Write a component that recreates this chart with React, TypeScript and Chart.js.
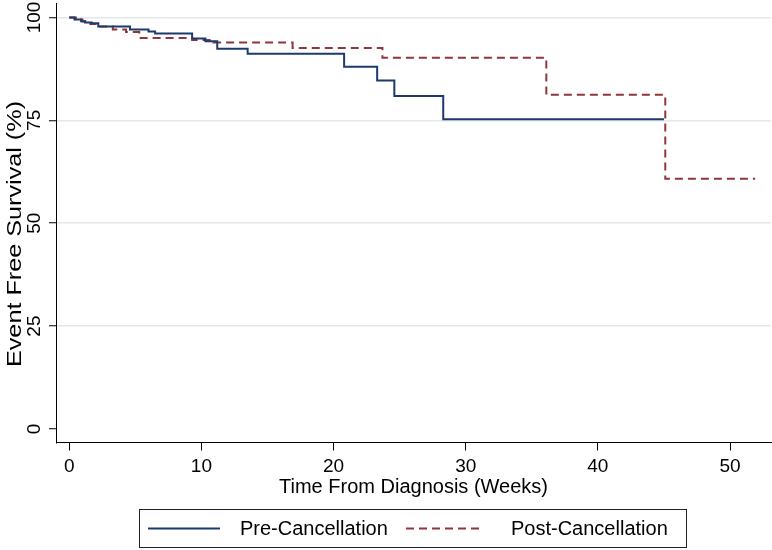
import React, { useEffect, useRef } from "react";
import { Chart, registerables } from "chart.js";

Chart.register(...registerables);

// Kaplan-Meier step data (time in weeks, event free survival in %)
const preTime = [0, 0.4, 0.9, 1.2, 1.7, 2.2, 4.6, 6.0, 6.5, 9.3, 10.3, 11.2, 13.5, 20.8, 23.3, 24.6, 28.3, 45.0];
const preSurv = [100, 99.5, 99.1, 98.8, 98.6, 97.8, 97.1, 96.6, 96.1, 94.9, 94.2, 92.4, 91.2, 88.0, 84.7, 80.9, 75.3, 75.3];

const postTime = [0, 0.5, 1.0, 1.6, 2.2, 3.3, 4.3, 5.3, 9.3, 10.9, 16.9, 23.7, 36.1, 45.1, 51.9];
const postSurv = [100, 99.5, 99.0, 98.4, 97.8, 97.1, 96.5, 95.0, 94.5, 93.9, 92.6, 90.2, 81.2, 60.8, 60.8];

const seriesNames = ["Pre-Cancellation", "Post-Cancellation"];
const xTicks = [0, 10, 20, 30, 40, 50];
const yTicks = [0, 25, 50, 75, 100];
const xTitle = "Time From Diagnosis (Weeks)";
const yTitle = "Event Free Survival (%)";

const FONT = "'Liberation Sans', Arial, Helvetica, sans-serif";
const PRE_COLOR = "#1d3a6e";
const POST_COLOR = "#90353b";
const GRID_COLOR = "#e1e8ee";

export default function App() {
  const ref = useRef<HTMLCanvasElement>(null);

  useEffect(() => {
    document.body.style.margin = "0";
    const canvas = ref.current;
    if (!canvas) return;

    const overlay = {
      id: "overlay",
      afterDraw(chart: any) {
        const ctx = chart.ctx as CanvasRenderingContext2D;
        const ys = chart.scales.y;
        ctx.save();
        ctx.fillStyle = "#000";
        ctx.textAlign = "center";
        ctx.textBaseline = "middle";
        // y tick labels (rotated)
        ctx.font = `19px ${FONT}`;
        for (const v of yTicks) {
          const py = ys.getPixelForValue(v);
          ctx.save();
          ctx.translate(35, py);
          ctx.rotate(-Math.PI / 2);
          ctx.fillText(String(v), 0, 0);
          ctx.restore();
        }
        // y title
        ctx.font = `20px ${FONT}`;
        ctx.save();
        ctx.translate(15, 234);
        ctx.rotate(-Math.PI / 2);
        ctx.scale(1.26, 1);
        ctx.fillText(yTitle, 0, 0);
        ctx.restore();

        // legend
        ctx.strokeStyle = "#222";
        ctx.lineWidth = 1;
        ctx.strokeRect(139.5, 509.5, 547, 38);
        const ly = 528.5;
        ctx.lineWidth = 2;
        ctx.strokeStyle = PRE_COLOR;
        ctx.beginPath();
        ctx.moveTo(148, ly);
        ctx.lineTo(220, ly);
        ctx.stroke();
        ctx.strokeStyle = POST_COLOR;
        ctx.setLineDash([8, 5]);
        ctx.beginPath();
        ctx.moveTo(406, ly);
        ctx.lineTo(484, ly);
        ctx.stroke();
        ctx.setLineDash([]);
        ctx.font = `20px ${FONT}`;
        ctx.textAlign = "left";
        ctx.fillStyle = "#000";
        ctx.fillText(seriesNames[0], 240, ly + 1);
        ctx.fillText(seriesNames[1], 511, ly + 1);
        ctx.restore();
      },
    };

    const chart = new Chart(canvas, {
      type: "line",
      data: {
        datasets: [
          {
            label: seriesNames[0],
            data: preTime.map((t, i) => ({ x: t, y: preSurv[i] })),
            borderColor: PRE_COLOR,
            borderWidth: 2,
            pointRadius: 0,
            stepped: "before",
            fill: false,
          },
          {
            label: seriesNames[1],
            data: postTime.map((t, i) => ({ x: t, y: postSurv[i] })),
            borderColor: POST_COLOR,
            borderWidth: 2,
            borderDash: [8, 5],
            pointRadius: 0,
            stepped: "before",
            fill: false,
          },
        ],
      },
      options: {
        responsive: false,
        animation: false,
        devicePixelRatio: 1,
        layout: { padding: { top: 3, right: 1, left: 0, bottom: 0 } },
        plugins: {
          legend: { display: false },
          tooltip: { enabled: false },
        },
        scales: {
          x: {
            type: "linear",
            min: -1,
            max: 53.1,
            afterBuildTicks: (s: any) => {
              s.ticks = xTicks.map((v) => ({ value: v }));
            },
            afterFit: (s: any) => {
              s.height = 107.5;
            },
            ticks: {
              autoSkip: false,
              color: "#000",
              font: { family: FONT, size: 19 },
              padding: 5,
              maxRotation: 0,
              minRotation: 0,
            },
            grid: {
              drawOnChartArea: false,
              drawTicks: true,
              tickLength: 8,
              tickColor: "#000",
              tickWidth: 1,
            },
            border: { display: true, color: "#000", width: 1 },
            title: {
              display: true,
              text: xTitle,
              color: "#000",
              font: { family: FONT, size: 20 },
              padding: { top: 0, bottom: 51 },
            },
          },
          y: {
            type: "linear",
            min: -3.28,
            max: 103.52,
            afterBuildTicks: (s: any) => {
              s.ticks = yTicks.map((v) => ({ value: v }));
            },
            afterFit: (s: any) => {
              s.width = 56;
            },
            ticks: { display: false },
            grid: {
              color: (c: any) => (c.tick && c.tick.value === 0 ? "rgba(0,0,0,0)" : GRID_COLOR),
              lineWidth: 1.5,
              drawTicks: true,
              tickLength: 7,
              tickColor: "#000",
              tickWidth: 1,
            },
            border: { display: true, color: "#000", width: 1 },
          },
        },
      },
      plugins: [overlay],
    } as any);

    return () => chart.destroy();
  }, []);

  return (
    <div style={{ width: 772, height: 550, background: "#fff" }}>
      <canvas ref={ref} width={772} height={550} style={{ display: "block" }} />
    </div>
  );
}
